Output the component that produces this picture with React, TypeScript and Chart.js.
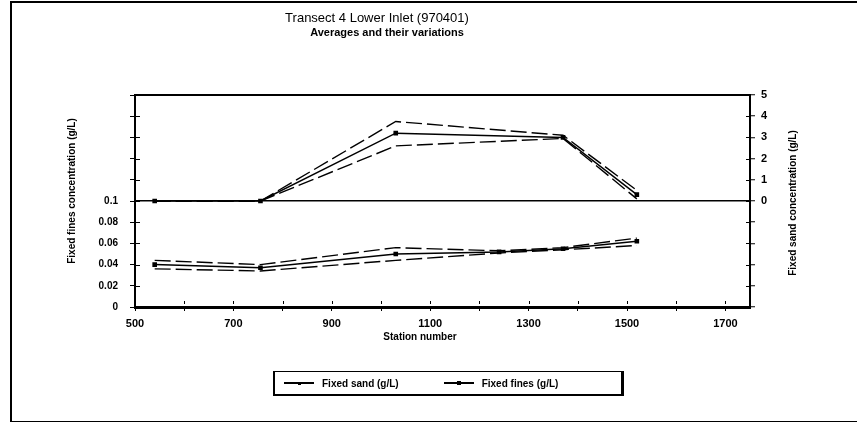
import React, { useEffect, useRef } from "react";
import { Chart, registerables } from "chart.js";

Chart.register(...registerables);

// Fixed sand (g/L), right axis: average and its upper / lower variation
const sandStations = [540, 755, 1030, 1370, 1520];
const sandMean = [0, 0, 3.2, 3.0, 0.3];
const sandHigh = [0, 0, 3.75, 3.1, 0.5];
const sandLow = [0, 0, 2.6, 2.95, 0.1];

// Fixed fines (g/L), left axis: average and its upper / lower variation
const finesStations = [540, 755, 1030, 1240, 1370, 1520];
const finesMean = [0.04, 0.037, 0.05, 0.052, 0.055, 0.062];
const finesHigh = [0.044, 0.04, 0.056, 0.053, 0.056, 0.065];
const finesLow = [0.036, 0.034, 0.044, 0.051, 0.054, 0.058];

// Tick labels
const stationLabels = [500, 700, 900, 1100, 1300, 1500, 1700];
const finesLabels = [0, 0.02, 0.04, 0.06, 0.08, 0.1];
const sandLabels = [0, 1, 2, 3, 4, 5];

const FONT = "'Liberation Sans', Arial, sans-serif";

const pts = (xs: number[], ys: number[]) => xs.map((x, i) => ({ x, y: ys[i] }));

const meanStyle = {
  borderColor: "#000",
  backgroundColor: "#000",
  borderWidth: 1.5,
  pointStyle: "rect" as const,
  pointRadius: 2.2,
  pointHoverRadius: 2.2,
  tension: 0,
};

const bandStyle = {
  borderColor: "#000",
  backgroundColor: "#000",
  borderWidth: 1.4,
  borderDash: [16, 5],
  pointRadius: 0,
  tension: 0,
};

const decorations = {
  id: "decorations",
  afterDraw(chart: any) {
    const { ctx, chartArea } = chart;
    const { left, right, top, bottom } = chartArea;
    const yL = chart.scales.yFines;
    const yR = chart.scales.ySand;
    const x = chart.scales.x;
    ctx.save();
    ctx.strokeStyle = "#000";
    ctx.fillStyle = "#000";

    // top edge of the plot frame
    ctx.lineWidth = 2;
    ctx.beginPath();
    ctx.moveTo(left, top);
    ctx.lineTo(right + 1, top);
    ctx.stroke();

    // inner tick marks
    ctx.lineWidth = 1;
    ctx.beginPath();
    yL.ticks.forEach((t: any) => {
      const py = Math.round(yL.getPixelForValue(t.value)) + 0.5;
      ctx.moveTo(left, py);
      ctx.lineTo(left + 5, py);
    });
    yR.ticks.forEach((t: any) => {
      const py = Math.round(yR.getPixelForValue(t.value)) + 0.5;
      ctx.moveTo(right - 4, py);
      ctx.lineTo(right, py);
    });
    x.ticks.forEach((t: any) => {
      const px = Math.round(x.getPixelForValue(t.value)) + 0.5;
      ctx.moveTo(px, bottom - 3);
      ctx.lineTo(px, bottom - 6);
    });
    ctx.stroke();

    // titles
    ctx.textAlign = "center";
    ctx.textBaseline = "middle";
    ctx.font = `13px ${FONT}`;
    ctx.fillText("Transect 4 Lower Inlet (970401)", 377, 18);
    ctx.font = `bold 11px ${FONT}`;
    ctx.fillText("Averages and their variations", 387, 33);
    ctx.font = `bold 10px ${FONT}`;
    ctx.fillText("Station number", 420, 337);

    ctx.translate(72, 191);
    ctx.rotate(-Math.PI / 2);
    ctx.fillText("Fixed fines concentration (g/L)", 0, 0);
    ctx.rotate(Math.PI / 2);
    ctx.translate(793 - 72, 203 - 191);
    ctx.rotate(-Math.PI / 2);
    ctx.fillText("Fixed sand concentration (g/L)", 0, 0);
    ctx.restore();
  },
};

function LegendSample({ marker }: { marker: number }) {
  return (
    <span style={{ position: "relative", display: "inline-block", width: 30, height: 10, marginRight: 8 }}>
      <span style={{ position: "absolute", left: 0, right: 0, top: 4, height: 1.5, background: "#000" }} />
      <span
        style={{
          position: "absolute",
          left: 15 - marker / 2,
          top: 5 - marker / 2,
          width: marker,
          height: marker,
          background: "#000",
        }}
      />
    </span>
  );
}

export default function App() {
  const canvasRef = useRef<HTMLCanvasElement | null>(null);

  useEffect(() => {
    document.body.style.margin = "0";
    const canvas = canvasRef.current;
    if (!canvas) return;

    const chart = new Chart(canvas, {
      type: "line",
      data: {
        datasets: [
          { label: "Fixed sand high", data: pts(sandStations, sandHigh), yAxisID: "ySand", ...bandStyle },
          { label: "Fixed sand low", data: pts(sandStations, sandLow), yAxisID: "ySand", ...bandStyle },
          { label: "Fixed fines high", data: pts(finesStations, finesHigh), yAxisID: "yFines", ...bandStyle },
          { label: "Fixed fines low", data: pts(finesStations, finesLow), yAxisID: "yFines", ...bandStyle },
          { label: "Fixed sand (g/L)", data: pts(sandStations, sandMean), yAxisID: "ySand", ...meanStyle },
          { label: "Fixed fines (g/L)", data: pts(finesStations, finesMean), yAxisID: "yFines", ...meanStyle },
        ],
      },
      options: {
        responsive: false,
        animation: false,
        events: [],
        layout: { padding: { top: 95, left: 0, right: 0, bottom: 0 } },
        plugins: { legend: { display: false }, tooltip: { enabled: false }, title: { display: false } },
        scales: {
          x: {
            type: "linear",
            position: "bottom",
            min: 500,
            max: 1750,
            afterBuildTicks: (s: any) => {
              const t = [];
              for (let v = 500; v <= 1700; v += 100) t.push({ value: v });
              s.ticks = t;
            },
            afterFit: (s: any) => {
              s.height = 117;
            },
            ticks: {
              autoSkip: false,
              maxRotation: 0,
              padding: 6,
              color: "#000",
              font: { family: FONT, size: 11, weight: "bold" },
              callback: (v: any) => (stationLabels.includes(Number(v)) ? String(v) : ""),
            },
            grid: { drawOnChartArea: false, color: "#000", tickLength: 4, lineWidth: 1 },
            border: { color: "#000", width: 3 },
          },
          yFines: {
            type: "linear",
            position: "left",
            min: 0,
            max: 0.2,
            afterBuildTicks: (s: any) => {
              const t = [];
              for (let i = 0; i <= 10; i++) t.push({ value: Math.round(i * 2) / 100 });
              s.ticks = t;
            },
            afterFit: (s: any) => {
              s.width = 135;
            },
            ticks: {
              autoSkip: false,
              padding: 12,
              color: "#000",
              font: { family: FONT, size: 10, weight: "bold" },
              callback: (v: any) => {
                const n = Number(v);
                const hit = finesLabels.find((l) => Math.abs(l - n) < 1e-6);
                return hit === undefined ? "" : String(hit);
              },
            },
            grid: { drawOnChartArea: false, color: "#000", tickLength: 5, lineWidth: 1 },
            border: { color: "#000", width: 2 },
          },
          ySand: {
            type: "linear",
            position: "right",
            min: -5,
            max: 5,
            afterBuildTicks: (s: any) => {
              const t = [];
              for (let v = -5; v <= 5; v++) t.push({ value: v });
              s.ticks = t;
            },
            afterFit: (s: any) => {
              s.width = 108;
            },
            ticks: {
              autoSkip: false,
              padding: 6,
              color: "#000",
              font: { family: FONT, size: 11, weight: "bold" },
              callback: (v: any) => (sandLabels.includes(Number(v)) ? String(v) : ""),
            },
            grid: {
              drawOnChartArea: true,
              color: (c: any) => (c.tick && c.tick.value === 0 ? "#000" : "rgba(0,0,0,0)"),
              lineWidth: 1.5,
              tickColor: "#000",
              tickWidth: 1,
              tickLength: 5,
            },
            border: { color: "#000", width: 2 },
          },
        },
      },
      plugins: [decorations],
    });

    return () => chart.destroy();
  }, []);

  return (
    <div style={{ position: "relative", width: 858, height: 424, background: "#fff", fontFamily: FONT }}>
      <canvas ref={canvasRef} width={858} height={424} style={{ display: "block" }} />
      {/* outer frame */}
      <div
        style={{
          position: "absolute",
          left: 10,
          top: 1,
          right: 1,
          bottom: 2,
          borderLeft: "2px solid #000",
          borderTop: "2px solid #000",
          borderBottom: "1px solid #000",
          pointerEvents: "none",
        }}
      />
      {/* legend */}
      <div
        style={{
          position: "absolute",
          left: 273,
          top: 371,
          width: 346,
          height: 22,
          borderTop: "1px solid #000",
          borderLeft: "2px solid #000",
          borderBottom: "2px solid #000",
          borderRight: "3px solid #000",
          display: "flex",
          alignItems: "center",
          fontSize: 10,
          fontWeight: "bold",
          color: "#000",
        }}
      >
        <span style={{ marginLeft: 9, display: "flex", alignItems: "center" }}>
          <LegendSample marker={3} />
          Fixed sand (g/L)
        </span>
        <span style={{ marginLeft: 45, display: "flex", alignItems: "center" }}>
          <LegendSample marker={4} />
          Fixed fines (g/L)
        </span>
      </div>
    </div>
  );
}
